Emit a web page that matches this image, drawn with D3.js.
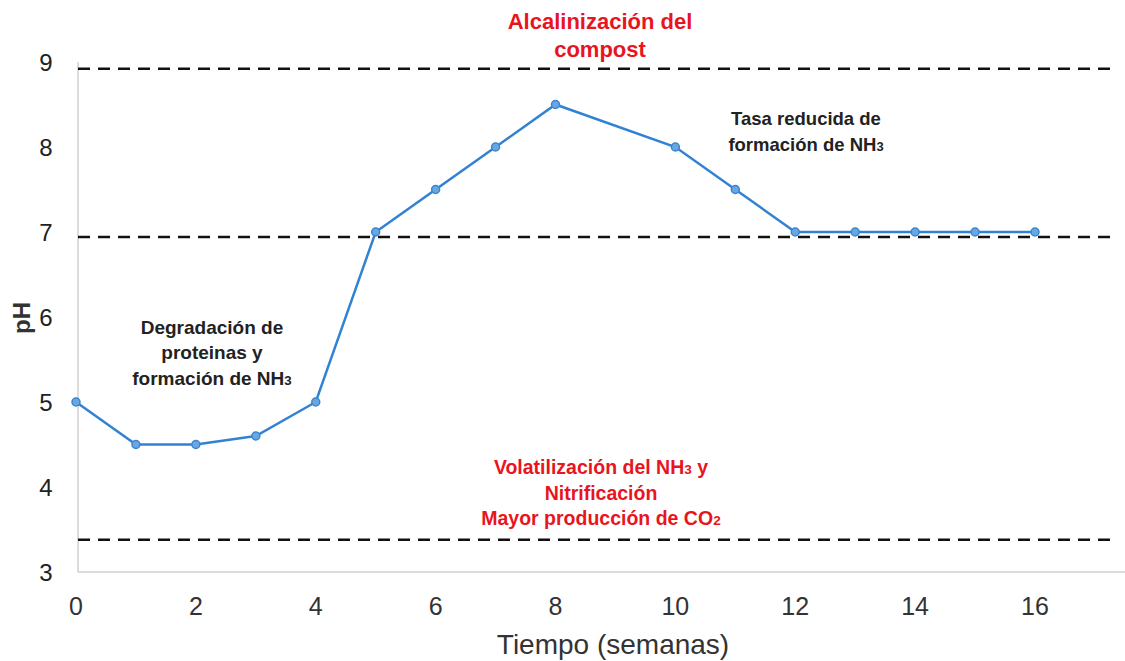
<!DOCTYPE html>
<html><head><meta charset="utf-8">
<script src="https://cdn.jsdelivr.net/npm/d3@7"></script>
<style>body{margin:0;background:#fff;}svg{display:block;}</style>
</head><body><svg id="c" width="1125" height="661"></svg>
<script>
const weeks = [0,1,2,3,4,5,6,7,8,10,11,12,13,14,15,16];
const phValues = [5.0,4.5,4.5,4.6,5.0,7.0,7.5,8.0,8.5,8.0,7.5,7.0,7.0,7.0,7.0,7.0];
const xTicks = [0,2,4,6,8,10,12,14,16];
const yTicks = [3,4,5,6,7,8,9];
const refLines = [8.92,6.94,3.38];

const svg = d3.select("#c");
const x = d3.scaleLinear().domain([0,16]).range([76,1035]);
const y = d3.scaleLinear().domain([3,9]).range([572,62]);

// axes lines
svg.append("line").attr("x1",78).attr("x2",78).attr("y1",62).attr("y2",572).attr("stroke","#d0d0d0").attr("stroke-width",1.5);
svg.append("line").attr("x1",78).attr("x2",1125).attr("y1",572).attr("y2",572).attr("stroke","#d0d0d0").attr("stroke-width",1.5);

// tick labels
svg.selectAll("text.yt").data(yTicks).join("text").attr("class","yt")
  .attr("x",46).attr("y",d=>y(d)).attr("dy","0.36em").attr("text-anchor","middle")
  .attr("font-family","Liberation Sans, Arial, sans-serif").attr("font-size",24).attr("fill","#222").text(d=>d);
svg.selectAll("text.xt").data(xTicks).join("text").attr("class","xt")
  .attr("x",d=>x(d)).attr("y",606).attr("dy","0.36em").attr("text-anchor","middle")
  .attr("font-family","Liberation Sans, Arial, sans-serif").attr("font-size",25).attr("fill","#333").text(d=>d);

svg.append("text").attr("transform","translate(30,318) rotate(-90)").attr("text-anchor","middle")
  .attr("font-family","Liberation Sans, Arial, sans-serif").attr("font-weight","bold").attr("font-size",24).attr("fill","#333").text("pH");
svg.append("text").attr("x",613).attr("y",644).attr("dy","0.36em").attr("text-anchor","middle")
  .attr("font-family","Liberation Sans, Arial, sans-serif").attr("font-size",28).attr("fill","#333").text("Tiempo (semanas)");

// dashed reference lines
svg.selectAll("line.ref").data(refLines).join("line").attr("class","ref")
  .attr("x1",78).attr("x2",1115).attr("y1",d=>y(d)).attr("y2",d=>y(d))
  .attr("stroke","#111").attr("stroke-width",2.5).attr("stroke-dasharray","12,8");

// data line
const pts = weeks.map((w,i)=>[w,phValues[i]]);
svg.append("path").datum(pts).attr("fill","none").attr("stroke","#3182d2").attr("stroke-width",2.5)
  .attr("d",d3.line().x(d=>x(d[0])).y(d=>y(d[1])));
svg.selectAll("circle").data(pts).join("circle")
  .attr("cx",d=>x(d[0])).attr("cy",d=>y(d[1])).attr("r",4)
  .attr("fill","#6aa6e0").attr("stroke","#3a86d0").attr("stroke-width",1.5);

// annotations
function label(lines, cx, y0, lh, color, size){
  lines.forEach((ln,i)=>{
    const t = svg.append("text").attr("x",cx).attr("y",y0+i*lh).attr("dy","0.36em").attr("text-anchor","middle")
      .attr("font-family","Liberation Sans, Arial, sans-serif").attr("font-weight","bold").attr("font-size",size).attr("fill",color);
    ln.forEach(seg=>{
      const s = t.append("tspan").text(seg[0]);
      if(seg[1]) s.attr("font-size",size*0.7);
    });
  });
}
label([[["Alcalinización del"]],[["compost"]]], 600, 21, 28, "#e8141e", 22);
label([[["Tasa reducida de"]],[["formación de NH"],["3",1]]], 806, 118, 26, "#222", 18.5);
label([[["Degradación de"]],[["proteinas y"]],[["formación de NH"],["3",1]]], 212, 327, 25.5, "#222", 19);
label([[["Volatilización del NH"],["3",1],[" y"]],[["Nitrificación"]],[["Mayor producción de CO"],["2",1]]], 601, 467, 25.5, "#e8141e", 19.5);
</script></body></html>
